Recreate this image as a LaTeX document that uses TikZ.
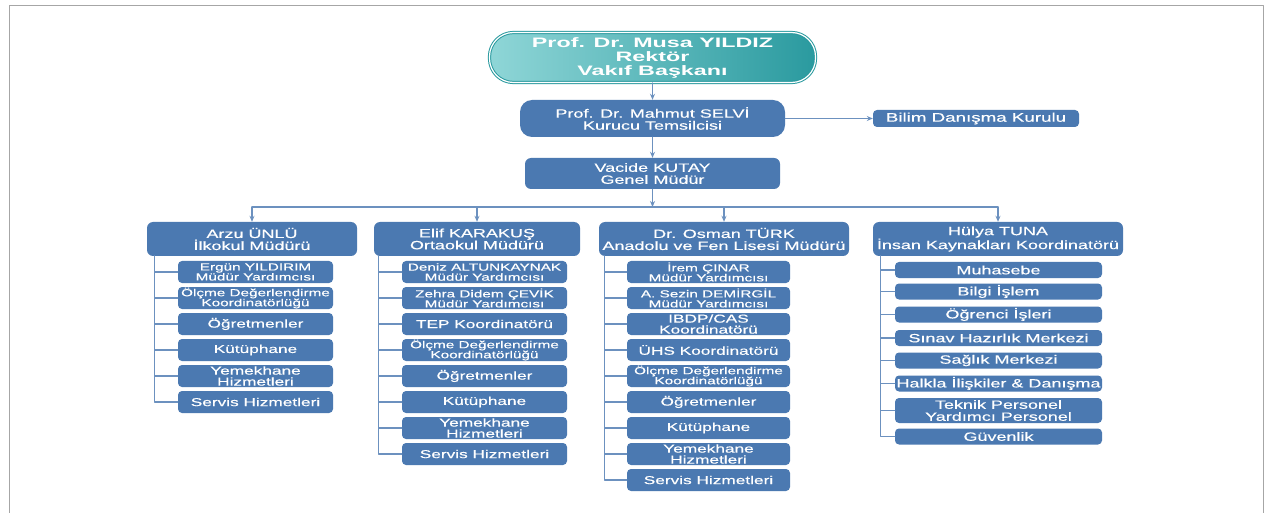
\documentclass[tikz,border=0pt]{standalone}
\usepackage{fontspec}
\usetikzlibrary{arrows.meta}
\setmainfont{Liberation Sans}[FakeStretch=1.5, FakeBold=0.4]
\newfontfamily\bigfont{Liberation Sans}[FakeStretch=1.7]
\definecolor{kutumavi}{HTML}{4B79B1}
\definecolor{hatmavi}{HTML}{6C91BF}
\definecolor{acikturkuaz}{HTML}{8FD6D7}
\definecolor{turkuaz}{HTML}{4DB5B9}
\definecolor{koyuturkuaz}{HTML}{2A9A9F}
\begin{document}
\begin{tikzpicture}[x=1pt, y=-1pt, >={Stealth[length=6pt,width=5pt]}, line join=round, line cap=round,
	kutu/.style={fill=kutumavi, text=white, inner sep=0pt, align=center},
	ust/.style={kutu, rounded corners=6pt, minimum height=34pt, font=\fontsize{12}{12}\selectfont},
	alt/.style={kutu, rounded corners=4pt, minimum height=22pt, font=\fontsize{11.5}{11}\selectfont},
	altk/.style={alt, font=\fontsize{10.2}{10}\selectfont},
	ik/.style={kutu, rounded corners=4pt, minimum width=207pt, minimum height=16pt, font=\fontsize{12}{12}\selectfont},
	ikb/.style={ik, minimum height=25pt},
	hat/.style={draw=hatmavi, line width=1.1pt}]
	% cerceve
	\fill[white] (0,0) rectangle (1264,513);
	\useasboundingbox (0,0) rectangle (1264,513);
	\draw[gray!70, line width=1pt] (9.5,513) -- (9.5,6) -- (1263,6) -- (1263,513);
	% ust kademe
	\node[text=white, align=center, inner sep=0pt, minimum width=326pt, minimum height=50pt,
		rounded corners=24pt, left color=acikturkuaz, middle color=turkuaz, right color=koyuturkuaz,
		draw=koyuturkuaz, double=white, double distance=1.2pt, line width=1pt,
		font=\bigfont\bfseries\fontsize{13.7}{14}\selectfont] (rektor) at (652.5,57.5)
		{Prof. Dr. Musa YILDIZ\\Rektör\\Vakıf Başkanı};
	\node[ust, rounded corners=12pt, minimum width=265pt, minimum height=37pt] (selvi) at (652.5,118.5)
		{Prof. Dr. Mahmut SELVİ\\Kurucu Temsilcisi};
	\node[kutu, rounded corners=4pt, minimum width=206pt, minimum height=17pt,
		font=\fontsize{12.5}{12}\selectfont] (bilim) at (976,118.5) {Bilim Danışma Kurulu};
	\node[ust, minimum width=255pt, minimum height=31pt] (kutay) at (652.5,173.5) {Vacide KUTAY\\Genel Müdür};
	\draw[hat,->] (rektor) -- (selvi);
	\draw[hat,->] (selvi) -- (bilim);
	\draw[hat,->] (selvi) -- (kutay);
	% okul mudurleri
	\coordinate (bus) at (652.5,207);
	\node[ust, minimum width=210pt] (arzu) at (252,239) {Arzu ÜNLÜ\\İlkokul Müdürü};
	\node[ust, minimum width=206pt] (elif) at (477,239) {Elif KARAKUŞ\\Ortaokul Müdürü};
	\node[ust, minimum width=250pt] (osman) at (724,239) {Dr. Osman TÜRK\\Anadolu ve Fen Lisesi Müdürü};
	\node[ust, minimum width=250pt] (hulya) at (998,239) {Hülya TUNA\\İnsan Kaynakları Koordinatörü};
	\draw[hat,->] (kutay) -- (bus);
	\draw[hat] (arzu.north |- bus) -- (hulya.north |- bus);
	\foreach \n in {arzu,elif,osman,hulya}
	\draw[hat,->] (\n.north |- bus) -- (\n.north);
	% ilkokul
	\foreach \t/\s [count=\i] in {{Ergün YILDIRIM\\Müdür Yardımcısı}/altk,
		{Ölçme Değerlendirme\\Koordinatörlüğü}/altk, Öğretmenler/alt, Kütüphane/alt,
		{Yemekhane\\Hizmetleri}/alt, Servis Hizmetleri/alt}{
		\node[\s, minimum width=155pt] (a\i) at (255.5,{272+26*(\i-1)}) {\t};
		\draw[hat] ([xshift=8pt]arzu.south west) |- (a\i.west);
	}
	% ortaokul
	\foreach \t/\s [count=\i] in {{Deniz ALTUNKAYNAK\\Müdür Yardımcısı}/altk,
		{Zehra Didem ÇEVİK\\Müdür Yardımcısı}/altk, TEP Koordinatörü/alt,
		{Ölçme Değerlendirme\\Koordinatörlüğü}/altk, Öğretmenler/alt, Kütüphane/alt,
		{Yemekhane\\Hizmetleri}/alt, Servis Hizmetleri/alt}{
		\node[\s, minimum width=165pt] (b\i) at (484.5,{272+26*(\i-1)}) {\t};
		\draw[hat] ([xshift=5pt]elif.south west) |- (b\i.west);
	}
	% lise
	\foreach \t/\s [count=\i] in {{İrem ÇINAR\\Müdür Yardımcısı}/altk,
		{A. Sezin DEMİRGİL\\Müdür Yardımcısı}/altk, {IBDP/CAS\\Koordinatörü}/alt,
		ÜHS Koordinatörü/alt, {Ölçme Değerlendirme\\Koordinatörlüğü}/altk, Öğretmenler/alt,
		Kütüphane/alt, {Yemekhane\\Hizmetleri}/alt, Servis Hizmetleri/alt}{
		\node[\s, minimum width=163pt] (c\i) at (708.5,{272+26*(\i-1)}) {\t};
		\draw[hat] ([xshift=6pt]osman.south west) |- (c\i.west);
	}
	% insan kaynaklari
	\foreach \y/\t/\s [count=\i] in {270/Muhasebe/ik, 291.5/Bilgi İşlem/ik, 314.5/Öğrenci İşleri/ik,
		338/Sınav Hazırlık Merkezi/ik, 360.5/Sağlık Merkezi/ik, 383.5/Halkla İlişkiler \& Danışma/ik,
		410.5/{Teknik Personel\\Yardımcı Personel}/ikb, 436.5/Güvenlik/ik}{
		\node[\s] (d\i) at (998.5,\y) {\t};
		\draw[hat] ([xshift=8pt]hulya.south west) |- (d\i.west);
	}
\end{tikzpicture}
\end{document}
